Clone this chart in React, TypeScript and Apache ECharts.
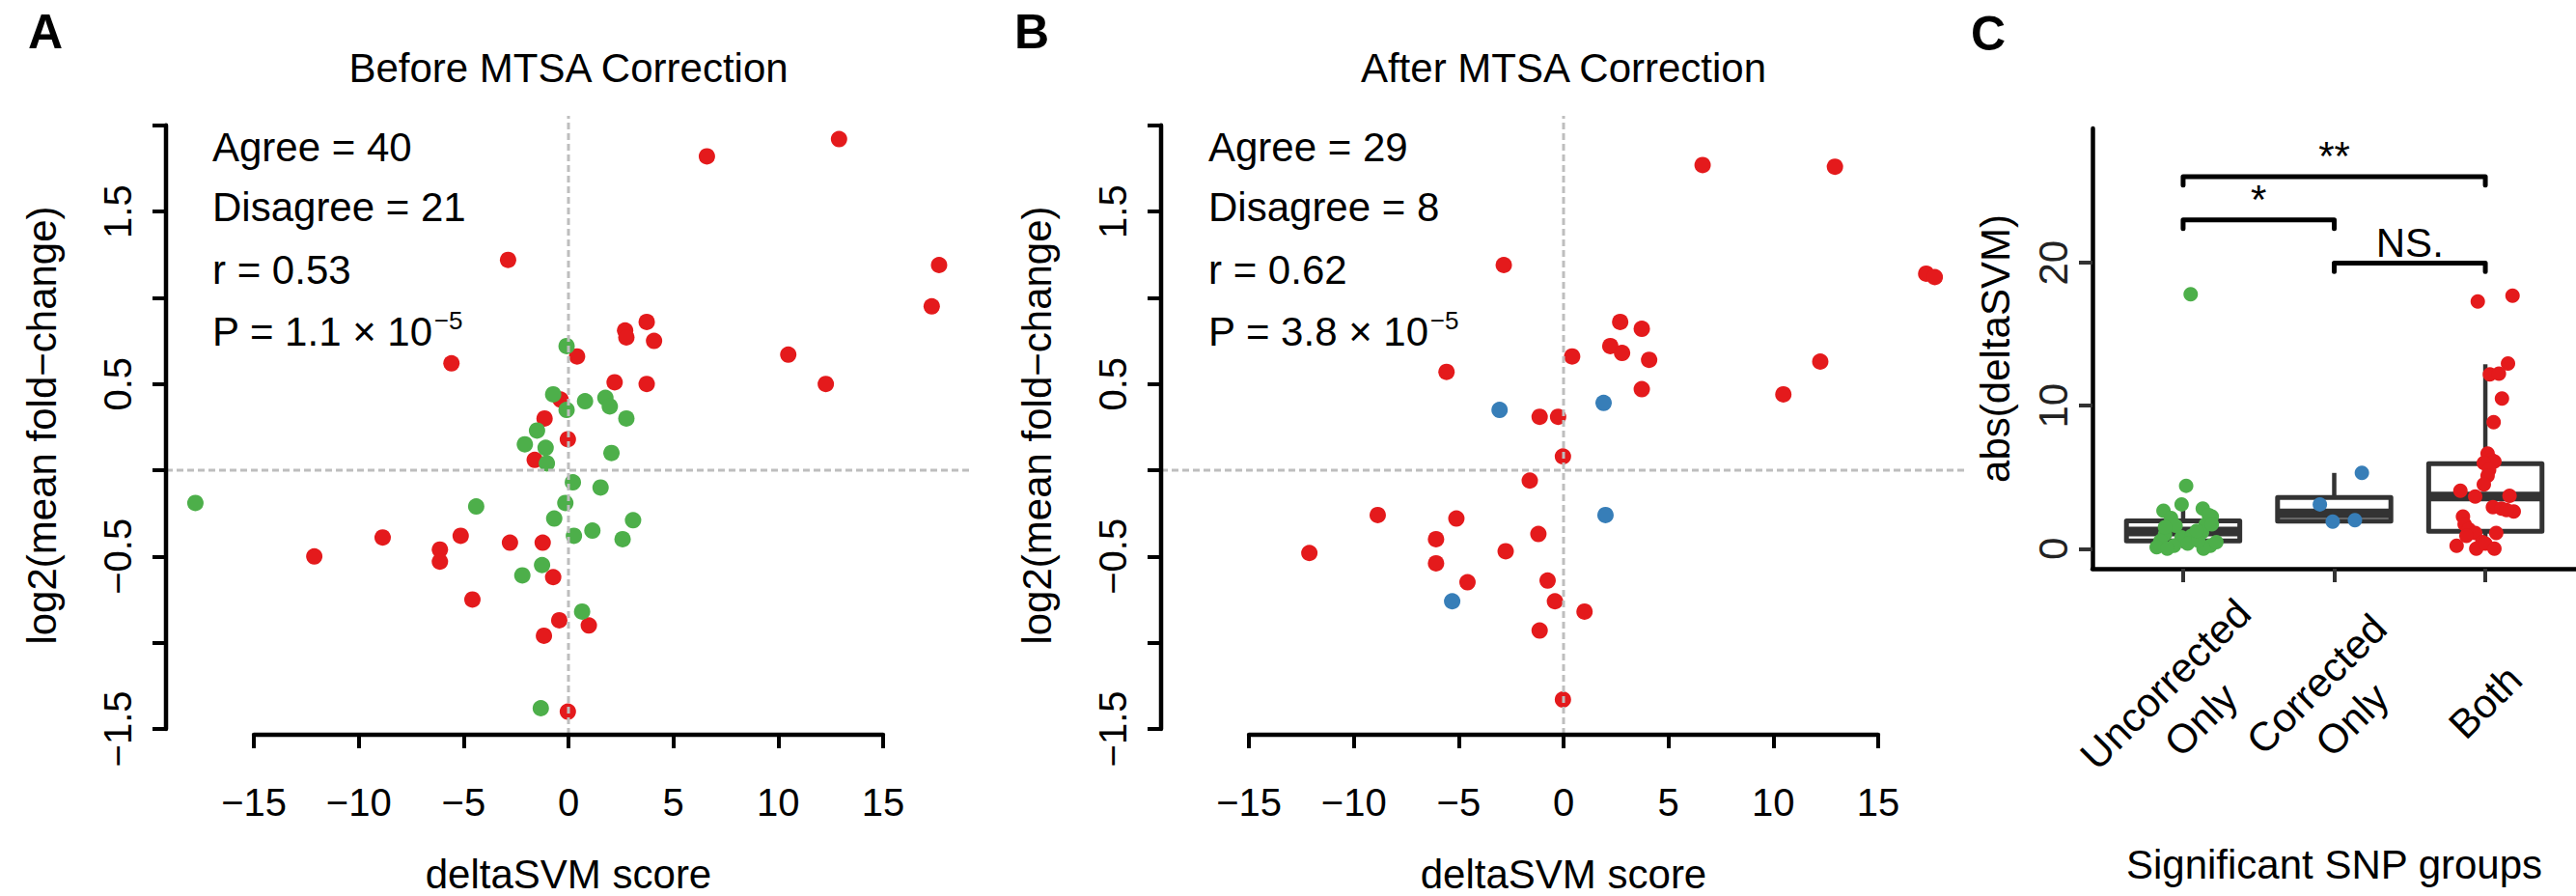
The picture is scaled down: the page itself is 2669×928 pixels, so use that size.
import { useEffect, useRef } from "react";
import * as echarts from "echarts";

// ---------------- data ----------------

// Panel A – before MTSA correction: [deltaSVM score, log2(mean fold-change)]
const beforeBoth: [number, number][] = [
  [12.9, 1.92], [6.6, 1.82], [-2.88, 1.22], [17.67, 1.19], [17.32, 0.95],
  [3.73, 0.86], [2.7, 0.81], [2.76, 0.77], [4.08, 0.75], [-5.58, 0.62],
  [10.48, 0.67], [0.41, 0.66], [2.2, 0.51], [3.73, 0.5], [12.27, 0.5],
  [-0.38, 0.41], [-1.14, 0.3], [-0.03, 0.18], [-1.61, 0.06], [-8.86, -0.39],
  [-5.14, -0.38], [-2.79, -0.42], [-1.23, -0.42], [-6.13, -0.46], [-12.12, -0.5],
  [-6.13, -0.53], [-0.73, -0.62], [-4.58, -0.75], [-0.44, -0.87], [0.97, -0.9],
  [-1.17, -0.96], [-0.03, -1.4],
];
const beforeUncorrectedOnly: [number, number][] = [
  [-0.09, 0.72], [-0.73, 0.44], [0.79, 0.4], [-0.09, 0.35], [1.76, 0.42],
  [1.97, 0.37], [2.76, 0.3], [-1.5, 0.23], [-2.08, 0.15], [-1.09, 0.13],
  [2.05, 0.1], [-1.03, 0.04], [0.21, -0.07], [1.53, -0.1], [-17.79, -0.19],
  [-0.15, -0.19], [-4.4, -0.21], [-0.68, -0.28], [3.08, -0.29], [1.14, -0.35],
  [0.26, -0.38], [2.58, -0.4], [-1.26, -0.55], [-2.2, -0.61], [0.65, -0.82],
  [-1.32, -1.38],
];

// Panel B – after MTSA correction
const afterBoth: [number, number][] = [
  [6.63, 1.77], [12.94, 1.76], [-2.85, 1.19], [17.29, 1.14], [17.7, 1.12],
  [2.7, 0.86], [3.73, 0.82], [2.23, 0.72], [2.79, 0.68], [0.41, 0.66],
  [4.08, 0.64], [12.24, 0.63], [-5.58, 0.57], [3.73, 0.47], [10.48, 0.44],
  [-1.14, 0.31], [-0.26, 0.31], [-0.03, 0.08], [-1.61, -0.06], [-8.86, -0.26],
  [-5.11, -0.28], [-1.2, -0.37], [-6.08, -0.4], [-12.12, -0.48], [-2.76, -0.47],
  [-6.08, -0.54], [-0.76, -0.64], [-4.58, -0.65], [-0.41, -0.76], [1.0, -0.82],
  [-1.14, -0.93], [-0.03, -1.33],
];
const afterCorrectedOnly: [number, number][] = [
  [-3.05, 0.35], [1.91, 0.39], [2.0, -0.26], [-5.31, -0.76],
];

const scatterXLim = [-19.19, 19.19];
const scatterYLim = [-1.534, 2.055];
const xTicks = [-15, -10, -5, 0, 5, 10, 15];
const yTicks = [-1.5, -1, -0.5, 0, 0.5, 1, 1.5, 2];
const yTickLabels = [-1.5, -0.5, 0.5, 1.5];

const statsBefore = ["Agree = 40", "Disagree = 21", "r = 0.53", "P = 1.1 × 10"];
const statsAfter = ["Agree = 29", "Disagree = 8", "r = 0.62", "P = 3.8 × 10"];
const pExponent = "−5";

// Panel C – abs(deltaSVM) by significant SNP group
const groupNames = ["Uncorrected\nOnly", "Corrected\nOnly", "Both"];
const groupTicks = [1, 2, 3];
const groupLim = [0.4, 3.6];
const absLim = [-1.4, 29.4];
const absTicks = [0, 10, 20];

// [group, lower whisker, Q1, median, Q3, upper whisker]
const boxStats: number[][] = [
  [1, 0.05, 0.55, 1.2, 1.95, 3.1],
  [2, 1.9, 1.93, 2.47, 3.58, 5.3],
  [3, 0.0, 1.22, 3.65, 5.95, 12.9],
];

// jittered points: [offset from group centre, abs(deltaSVM)]
const jitterUncorrectedOnly: [number, number][] = [
  [0.05, 17.8], [0.02, 4.4], [-0.01, 3.1], [-0.13, 2.65], [0.13, 2.8],
  [-0.08, 2.15], [0.19, 2.25], [-0.05, 1.6], [0.15, 1.7], [-0.12, 1.0],
  [0.125, 1.15], [-0.15, 0.55], [-0.01, 0.8], [0.055, 0.9], [-0.06, 0.2],
  [0.03, 0.35], [-0.175, 0.1], [-0.105, 0.0], [0.18, 0.2], [0.135, 0.0],
  [0.1, 0.55], [0.22, 0.45], [0.09, 1.25], [0.17, 2.35], [-0.12, 1.5],
  [0.19, 1.7],
];
const jitterCorrectedOnly: [number, number][] = [
  [-0.095, 3.1], [-0.01, 1.9], [0.137, 2.0], [0.183, 5.3],
];
const jitterBoth: [number, number][] = [
  [-0.05, 17.3], [0.18, 17.7], [0.15, 12.95], [0.03, 12.2], [0.09, 12.25],
  [0.11, 10.5], [0.055, 8.85], [0.015, 6.65], [0.04, 6.2], [0.06, 6.1],
  [-0.01, 6.0], [0.025, 5.5], [0.015, 5.1], [-0.01, 4.5], [-0.165, 4.05],
  [-0.067, 3.65], [0.16, 3.7], [0.05, 2.9], [0.107, 2.8], [0.188, 2.6],
  [0.14, 2.7], [-0.148, 2.25], [-0.137, 1.7], [-0.109, 1.35], [-0.067, 1.1],
  [0.072, 1.1], [-0.125, 0.9], [-0.02, 0.45], [-0.19, 0.2], [-0.06, 0.0],
  [0.0, 0.35], [0.06, 0.0],
];

// significance brackets: [from group, to group, height]
const brackets: number[][] = [
  [1, 3, 26.03],
  [1, 2, 23.0],
  [2, 3, 19.98],
];
const bracketLabels = ["**", "*", "NS."];
const bracketDrop = 0.6;

// ---------------- styling / layout ----------------

const FONT = '"Liberation Sans", Arial, Helvetica, sans-serif';
const RED = "#E41A1C";
const GREEN = "#4DAF4A";
const BLUE = "#377EB8";
const REF_LINE = "#BEBEBE";
const BOX_LINE = "#333333";

const GRID_A = { left: 172, top: 120, width: 834, height: 641 };
const GRID_B = { left: 1203, top: 120, width: 834, height: 641 };
const GRID_C = { left: 2168, top: 133, width: 501, height: 456 };

const signed = (v: number) => (v < 0 ? "−" + Math.abs(v) : String(v));

function textWidth(text: string, size: number): number {
  const ctx = document.createElement("canvas").getContext("2d");
  if (!ctx) return text.length * size * 0.55;
  ctx.font = `${size}px ${FONT}`;
  return ctx.measureText(text).width;
}

function text(str: string, x: number, y: number, size: number, extra: Record<string, unknown> = {}) {
  return {
    type: "text",
    x,
    y,
    silent: true,
    style: {
      text: str,
      fontSize: size,
      fontFamily: FONT,
      fill: "#000",
      align: "left",
      verticalAlign: "middle",
      ...extra,
    },
  };
}

function scatterAxes(gridIndex: number) {
  const xAxis = {
    gridIndex,
    type: "value",
    min: scatterXLim[0],
    max: scatterXLim[1],
    axisLine: { show: false, onZero: false },
    splitLine: { show: false },
    axisTick: { show: true, customValues: xTicks, length: 14, lineStyle: { color: "#000", width: 4 } },
    axisLabel: {
      show: true,
      customValues: xTicks,
      formatter: signed,
      fontSize: 40,
      fontFamily: FONT,
      color: "#000",
      margin: 50,
    },
    name: "deltaSVM score",
    nameLocation: "middle",
    nameGap: 123,
    nameMoveOverlap: false,
    nameTextStyle: { fontSize: 42, fontFamily: FONT, color: "#000" },
  };
  const yAxis = {
    gridIndex,
    type: "value",
    min: scatterYLim[0],
    max: scatterYLim[1],
    axisLine: { show: false, onZero: false },
    splitLine: { show: false },
    axisTick: { show: true, customValues: yTicks, length: 14, lineStyle: { color: "#000", width: 4 } },
    axisLabel: {
      show: true,
      customValues: yTickLabels,
      formatter: signed,
      rotate: 90,
      align: "center",
      verticalAlign: "bottom",
      fontSize: 40,
      fontFamily: FONT,
      color: "#000",
      margin: 30,
    },
    name: "log2(mean fold−change)",
    nameLocation: "middle",
    nameRotate: 90,
    nameGap: 108,
    nameMoveOverlap: false,
    nameTextStyle: { fontSize: 42, fontFamily: FONT, color: "#000" },
  };
  return { xAxis, yAxis };
}

function lineSeries(idx: number, data: number[][], style: Record<string, unknown>, z: number) {
  return {
    type: "line",
    xAxisIndex: idx,
    yAxisIndex: idx,
    data,
    symbol: "none",
    silent: true,
    clip: false,
    z,
    lineStyle: style,
    emphasis: { disabled: true },
  };
}

function scatterPanelSeries(idx: number, both: number[][], other: number[][], otherColor: string) {
  const xl = scatterXLim;
  const yl = scatterYLim;
  const dashed = { color: REF_LINE, width: 3, type: [7, 4] };
  const axisStyle = { color: "#000", width: 4.5, cap: "round" };
  return [
    {
      type: "scatter",
      xAxisIndex: idx,
      yAxisIndex: idx,
      data: both,
      symbolSize: 17,
      itemStyle: { color: RED, opacity: 1 },
      z: 2,
      silent: true,
    },
    {
      type: "scatter",
      xAxisIndex: idx,
      yAxisIndex: idx,
      data: other,
      symbolSize: 17,
      itemStyle: { color: otherColor, opacity: 1 },
      z: 3,
      silent: true,
    },
    lineSeries(idx, [[xl[0], 0], [xl[1], 0]], dashed, 5),
    lineSeries(idx, [[0, yl[0]], [0, yl[1]]], dashed, 5),
    // R-style axis lines spanning first to last tick
    lineSeries(idx, [[xTicks[0], yl[0]], [xTicks[xTicks.length - 1], yl[0]]], axisStyle, 6),
    lineSeries(idx, [[xl[0], yTicks[0]], [xl[0], yTicks[yTicks.length - 1]]], axisStyle, 6),
  ];
}

function buildOption() {
  const a = scatterAxes(0);
  const b = scatterAxes(1);

  const xAxisC = {
    gridIndex: 2,
    type: "value",
    min: groupLim[0],
    max: groupLim[1],
    axisLine: { show: true, onZero: false, lineStyle: { color: "#000", width: 4.5 } },
    splitLine: { show: false },
    axisTick: { show: true, customValues: groupTicks, length: 14, lineStyle: { color: BOX_LINE, width: 4 } },
    axisLabel: {
      show: true,
      customValues: groupTicks,
      formatter: (v: number) => groupNames[Math.round(v) - 1] ?? "",
      rotate: 45,
      align: "center",
      verticalAlign: "middle",
      margin: 138,
      fontSize: 42,
      lineHeight: 52,
      fontFamily: FONT,
      color: "#000",
    },
    name: "Significant SNP groups",
    nameLocation: "middle",
    nameGap: 285,
    nameMoveOverlap: false,
    nameTextStyle: { fontSize: 42, fontFamily: FONT, color: "#000" },
  };
  const yAxisC = {
    gridIndex: 2,
    type: "value",
    min: absLim[0],
    max: absLim[1],
    axisLine: { show: true, onZero: false, lineStyle: { color: "#000", width: 4.5 } },
    splitLine: { show: false },
    axisTick: { show: true, customValues: absTicks, length: 14, lineStyle: { color: BOX_LINE, width: 4 } },
    axisLabel: {
      show: true,
      customValues: absTicks,
      rotate: 90,
      align: "center",
      verticalAlign: "bottom",
      margin: 20,
      fontSize: 42,
      fontFamily: FONT,
      color: "#222",
    },
    name: "abs(deltaSVM)",
    nameLocation: "middle",
    nameRotate: 90,
    nameGap: 80,
    nameMoveOverlap: false,
    nameTextStyle: { fontSize: 42, fontFamily: FONT, color: "#000" },
  };

  const boxSeries = {
    type: "custom",
    xAxisIndex: 2,
    yAxisIndex: 2,
    data: boxStats,
    encode: { x: 0, y: 3 },
    silent: true,
    z: 1,
    renderItem: (_params: any, api: any) => {
      const g = api.value(0);
      const lo = api.coord([g, api.value(1)]);
      const q1 = api.coord([g, api.value(2)]);
      const med = api.coord([g, api.value(3)]);
      const q3 = api.coord([g, api.value(4)]);
      const hi = api.coord([g, api.value(5)]);
      const half = api.size([0.75, 0])[0] / 2;
      const cx = q1[0];
      const stroke = { stroke: BOX_LINE, lineWidth: 4.5 };
      return {
        type: "group",
        children: [
          { type: "line", shape: { x1: cx, y1: q3[1], x2: cx, y2: hi[1] }, style: stroke },
          { type: "line", shape: { x1: cx, y1: q1[1], x2: cx, y2: lo[1] }, style: stroke },
          {
            type: "rect",
            shape: { x: cx - half, y: q3[1], width: half * 2, height: q1[1] - q3[1] },
            style: { fill: "#fff", stroke: BOX_LINE, lineWidth: 5, lineJoin: "round" },
          },
          {
            type: "line",
            shape: { x1: cx - half, y1: med[1], x2: cx + half, y2: med[1] },
            style: { stroke: BOX_LINE, lineWidth: 10 },
          },
        ],
      };
    },
  };

  const jitter = (group: number, pts: number[][]) => pts.map(([o, v]) => [group + o, v]);
  const jitterSeries = (data: number[][], color: string, z: number) => ({
    type: "scatter",
    xAxisIndex: 2,
    yAxisIndex: 2,
    data,
    symbolSize: 15,
    itemStyle: { color, opacity: 1 },
    silent: true,
    z,
  });

  const bracketSeries = {
    type: "custom",
    xAxisIndex: 2,
    yAxisIndex: 2,
    data: brackets,
    encode: { x: 0, y: 2 },
    silent: true,
    clip: false,
    z: 4,
    renderItem: (params: any, api: any) => {
      const g1 = api.value(0);
      const g2 = api.value(1);
      const h = api.value(2);
      const p1 = api.coord([g1, h - bracketDrop]);
      const p2 = api.coord([g1, h]);
      const p3 = api.coord([g2, h]);
      const p4 = api.coord([g2, h - bracketDrop]);
      const mid = api.coord([(g1 + g2) / 2, h]);
      return {
        type: "group",
        children: [
          {
            type: "polyline",
            shape: { points: [p1, p2, p3, p4] },
            style: { stroke: "#000", lineWidth: 5, fill: "none", lineJoin: "round", lineCap: "round" },
          },
          {
            type: "text",
            x: mid[0],
            y: mid[1],
            style: {
              text: bracketLabels[params.dataIndex],
              fontSize: 42,
              fontFamily: FONT,
              fill: "#000",
              align: "center",
              verticalAlign: "bottom",
            },
          },
        ],
      };
    },
  };

  // titles, panel letters and correlation summaries
  const graphics: any[] = [
    text("A", 29, 32.5, 50, { fontWeight: "bold" }),
    text("B", 1051, 32.5, 50, { fontWeight: "bold" }),
    text("C", 2042, 35, 50, { fontWeight: "bold" }),
    text("Before MTSA Correction", GRID_A.left + GRID_A.width / 2, 70, 42, { align: "center" }),
    text("After MTSA Correction", GRID_B.left + GRID_B.width / 2, 70, 42, { align: "center" }),
  ];
  const lineMid = [152, 214, 279, 343];
  const addStats = (lines: string[], left: number) => {
    lines.forEach((s, i) => graphics.push(text(s, left, lineMid[i], 42)));
    const w = textWidth(lines[3], 42);
    graphics.push(text(pExponent, left + w + 1, 332, 26));
  };
  addStats(statsBefore, GRID_A.left + 48);
  addStats(statsAfter, GRID_B.left + 49);

  return {
    animation: false,
    backgroundColor: "#fff",
    textStyle: { fontFamily: FONT },
    grid: [
      { ...GRID_A, outerBoundsMode: "none", containLabel: false },
      { ...GRID_B, outerBoundsMode: "none", containLabel: false },
      { ...GRID_C, outerBoundsMode: "none", containLabel: false },
    ],
    xAxis: [a.xAxis, b.xAxis, xAxisC],
    yAxis: [a.yAxis, b.yAxis, yAxisC],
    series: [
      ...scatterPanelSeries(0, beforeBoth, beforeUncorrectedOnly, GREEN),
      ...scatterPanelSeries(1, afterBoth, afterCorrectedOnly, BLUE),
      boxSeries,
      jitterSeries(jitter(1, jitterUncorrectedOnly), GREEN, 2),
      jitterSeries(jitter(2, jitterCorrectedOnly), BLUE, 2),
      jitterSeries(jitter(3, jitterBoth), RED, 2),
      bracketSeries,
    ],
    graphic: { elements: graphics },
  };
}

export default function App() {
  const ref = useRef<HTMLDivElement>(null);
  useEffect(() => {
    if (!ref.current) return;
    const chart = echarts.init(ref.current, null, { renderer: "svg" });
    chart.setOption(buildOption() as any);
    return () => chart.dispose();
  }, []);
  return (
    <div
      ref={ref}
      style={{ position: "absolute", left: 0, top: 0, width: 2669, height: 928, background: "#fff" }}
    />
  );
}
